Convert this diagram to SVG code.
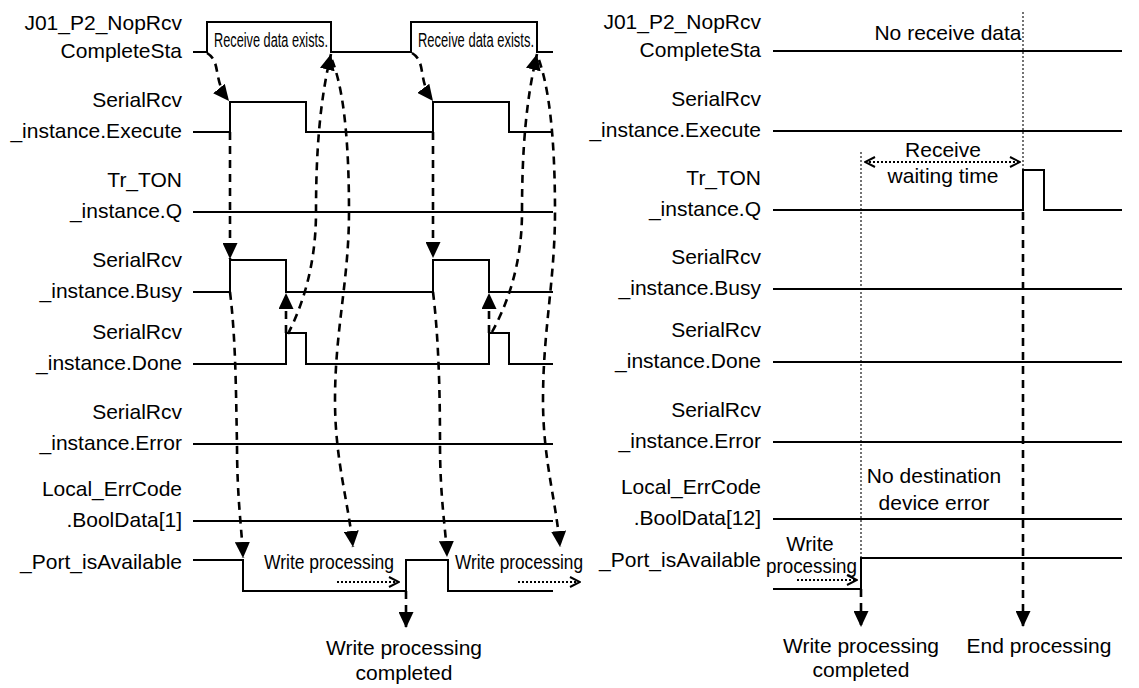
<svg xmlns="http://www.w3.org/2000/svg" width="1139" height="688" viewBox="0 0 1139 688">
<style>
.sig{fill:none;stroke:#000;stroke-width:2}
.dash{fill:none;stroke:#000;stroke-width:2.6;stroke-dasharray:8 6}
.dot{fill:none;stroke:#000;stroke-width:1.8;stroke-dasharray:2 2}
.thin{fill:none;stroke:#000;stroke-width:1.1;stroke-dasharray:2 2}
.lbl{font-family:"Liberation Sans",Arial,sans-serif;font-size:21px;text-anchor:end;fill:#000}
.big{font-family:"Liberation Sans",Arial,sans-serif;font-size:21px;text-anchor:middle;fill:#000}
.nar{font-family:"Liberation Sans",Arial,sans-serif;font-size:20.5px;fill:#000}
</style>
<defs>
<marker id="ah" viewBox="0 0 16 15" refX="16" refY="7.5" markerWidth="16" markerHeight="15" markerUnits="userSpaceOnUse" orient="auto">
<path d="M0,0 L16,7.5 L0,15 z" fill="#000"/>
</marker>
<marker id="oa" viewBox="0 0 12 12" refX="11" refY="6" markerWidth="12" markerHeight="12" markerUnits="userSpaceOnUse" orient="auto-start-reverse">
<path d="M1,1 L11,6 L1,11" fill="none" stroke="#000" stroke-width="2"/>
</marker>
</defs>
<rect width="1139" height="688" fill="#fff"/>

<!-- LEFT PANEL -->
<g id="L_CompleteSta">
<text class="lbl" x="182" y="30">J01_P2_NopRcv</text>
<text class="lbl" x="182" y="58">CompleteSta</text>
<path class="sig" d="M193,52 H207 V22 H331 V52 H411 V22 H537 V52 H553"/>
<text class="nar" x="214" y="47" textLength="114" lengthAdjust="spacingAndGlyphs">Receive data exists.</text>
<text class="nar" x="418" y="47" textLength="116" lengthAdjust="spacingAndGlyphs">Receive data exists.</text>
</g>
<g id="L_Execute">
<text class="lbl" x="182" y="107">SerialRcv</text>
<text class="lbl" x="182" y="138">_instance.Execute</text>
<path class="sig" d="M193,132 H230 V102 H306 V132 H433 V102 H509 V132 H553"/>
</g>
<g id="L_Q">
<text class="lbl" x="182" y="187">Tr_TON</text>
<text class="lbl" x="182" y="218">_instance.Q</text>
<path class="sig" d="M193,212 H553"/>
</g>
<g id="L_Busy">
<text class="lbl" x="182" y="267">SerialRcv</text>
<text class="lbl" x="182" y="298">_instance.Busy</text>
<path class="sig" d="M193,292 H230 V260 H286 V292 H433 V260 H489 V292 H553"/>
</g>
<g id="L_Done">
<text class="lbl" x="182" y="339">SerialRcv</text>
<text class="lbl" x="182" y="370">_instance.Done</text>
<path class="sig" d="M193,364 H286 V333 H306 V364 H489 V333 H509 V364 H553"/>
</g>
<g id="L_Error">
<text class="lbl" x="182" y="419">SerialRcv</text>
<text class="lbl" x="182" y="450">_instance.Error</text>
<path class="sig" d="M193,444 H553"/>
</g>
<g id="L_BoolData">
<text class="lbl" x="182" y="496">Local_ErrCode</text>
<text class="lbl" x="182" y="527">.BoolData[1]</text>
<path class="sig" d="M193,521 H553"/>
</g>
<g id="L_Port">
<text class="lbl" x="182" y="569">_Port_isAvailable</text>
<path class="sig" d="M193,560 H243 V591 H406 V560 H448 V591 H553"/>
<text class="nar" x="264" y="569" textLength="130" lengthAdjust="spacingAndGlyphs">Write processing</text>
<text class="nar" x="455" y="569" textLength="128" lengthAdjust="spacingAndGlyphs">Write processing</text>
<path class="dot" d="M337,582 H399" marker-end="url(#oa)"/>
<path class="dot" d="M518,582 H580" marker-end="url(#oa)"/>
</g>
<g id="L_Completed">
<text class="big" x="404" y="655">Write processing</text>
<text class="big" x="404" y="680">completed</text>
</g>

<!-- RIGHT PANEL -->
<g id="R_CompleteSta">
<text class="lbl" x="761" y="29">J01_P2_NopRcv</text>
<text class="lbl" x="761" y="57">CompleteSta</text>
<path class="sig" d="M773,51 H1122"/>
<text class="big" x="948" y="40">No receive data</text>
</g>
<g id="R_Execute">
<text class="lbl" x="761" y="106">SerialRcv</text>
<text class="lbl" x="761" y="137">_instance.Execute</text>
<path class="sig" d="M773,131 H1122"/>
</g>
<g id="R_Q">
<text class="lbl" x="761" y="185">Tr_TON</text>
<text class="lbl" x="761" y="216">_instance.Q</text>
<path class="sig" d="M773,210 H1023 V170 H1044 V210 H1122"/>
</g>
<g id="R_Busy">
<text class="lbl" x="761" y="264">SerialRcv</text>
<text class="lbl" x="761" y="295">_instance.Busy</text>
<path class="sig" d="M773,289 H1122"/>
</g>
<g id="R_Done">
<text class="lbl" x="761" y="337">SerialRcv</text>
<text class="lbl" x="761" y="368">_instance.Done</text>
<path class="sig" d="M773,362 H1122"/>
</g>
<g id="R_Error">
<text class="lbl" x="761" y="417">SerialRcv</text>
<text class="lbl" x="761" y="448">_instance.Error</text>
<path class="sig" d="M773,442 H1122"/>
</g>
<g id="R_BoolData">
<text class="lbl" x="761" y="494">Local_ErrCode</text>
<text class="lbl" x="761" y="525">.BoolData[12]</text>
<path class="sig" d="M773,519 H1122"/>
<text class="big" x="934" y="483">No destination</text>
<text class="big" x="934" y="510">device error</text>
</g>
<g id="R_Port">
<text class="lbl" x="761" y="567">_Port_isAvailable</text>
<path class="sig" d="M773,589 H861 V558 H1122"/>
<text class="nar" x="810" y="551" text-anchor="middle">Write</text>
<text class="nar" x="766" y="573" textLength="91" lengthAdjust="spacingAndGlyphs">processing</text>
<path class="dot" d="M797,580 H857" marker-end="url(#oa)"/>
</g>
<g id="R_Wait">
<path class="thin" d="M1023,12 V210"/>
<path class="thin" d="M861,152 V558"/>
<path class="dot" d="M865,162 H1020" marker-start="url(#oa)" marker-end="url(#oa)"/>
<text class="big" x="943" y="157">Receive</text>
<text class="big" x="943" y="183">waiting time</text>
</g>
<g id="R_Completed">
<text class="big" x="861" y="653">Write processing</text>
<text class="big" x="861" y="677">completed</text>
</g>
<g id="R_End">
<text class="big" x="1039" y="653">End processing</text>
</g>

<!-- CONNECTORS -->
<g id="connectors">
<path class="dash" d="M207,53 C222,62 212,80 229,101" marker-end="url(#ah)"/>
<path class="dash" d="M230,132 V259" marker-end="url(#ah)"/>
<path class="dash" d="M230,292 C236,340 236,400 237,444 C237,500 242,530 243,558" marker-end="url(#ah)"/>
<path class="dash" d="M286,333 V293" marker-end="url(#ah)"/>
<path class="dash" d="M288,334 C300,310 316,270 316,212 C316,150 320,100 331,54" marker-end="url(#ah)"/>
<path class="dash" d="M332,60 C340,80 349,120 349,212 C349,280 335,330 335,400 C335,460 348,500 353,547"  marker-end="url(#ah)"/>

<path class="dash" d="M412,53 C427,62 417,80 433,101" marker-end="url(#ah)"/>
<path class="dash" d="M433,132 V258" marker-end="url(#ah)"/>
<path class="dash" d="M433,292 C439,340 440,400 440,444 C440,500 446,530 447,557" marker-end="url(#ah)"/>
<path class="dash" d="M489,333 V293" marker-end="url(#ah)"/>
<path class="dash" d="M492,332 C504,310 522,270 522,212 C522,150 526,100 537,54" marker-end="url(#ah)"/>
<path class="dash" d="M539,60 C546,80 555,120 555,212 C555,280 543,330 543,400 C543,460 556,500 560,547" marker-end="url(#ah)"/>

<path class="dash" d="M406,591 V628" marker-end="url(#ah)"/>
<path class="dash" d="M861,589 V627" marker-end="url(#ah)"/>
<path class="dash" d="M1023,212 V627" marker-end="url(#ah)"/>
</g>
</svg>
